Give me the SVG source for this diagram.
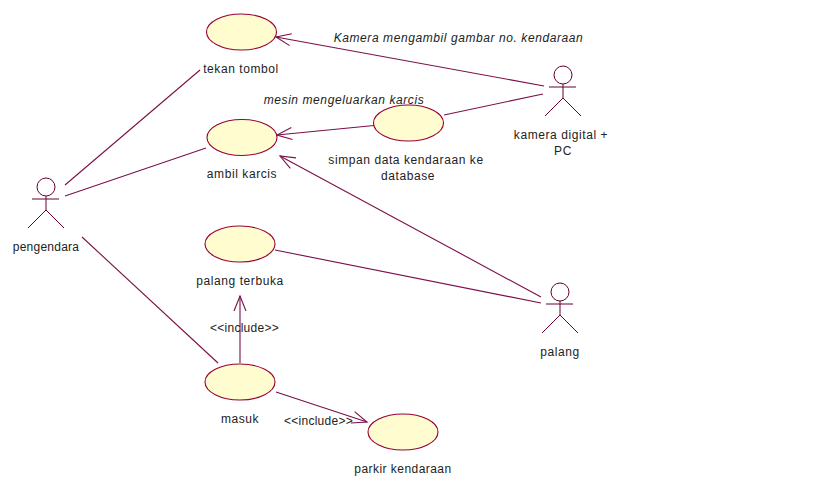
<svg xmlns="http://www.w3.org/2000/svg" width="819" height="489" viewBox="0 0 819 489">
<style>
.uc{fill:#fffdcf;stroke:#990033;stroke-width:1.1}
.ln{fill:none;stroke:#7a1048;stroke-width:1.1}
.ac{fill:none;stroke:#660033;stroke-width:1}
text{font-family:"Liberation Sans",Arial,sans-serif;font-size:12px;letter-spacing:0.58px;fill:#222;text-anchor:middle}
.i{font-style:italic}
.t{letter-spacing:0.25px}
</style>
<defs>
<marker id="open" markerUnits="userSpaceOnUse" markerWidth="18" markerHeight="14" refX="16" refY="7" orient="auto">
<path d="M1 1L16 7L1 13" fill="none" stroke="#7a1048" stroke-width="1.1"/>
</marker>
<g id="actor">
<circle cx="0" cy="-12" r="9"/>
<path d="M-14 0H13M0 -3V11M0 11L-18 29M0 11L18 29"/>
</g>
</defs>
<rect width="819" height="489" fill="#fff"/>
<g id="connectors">
<path class="ln" d="M65 185L200 70"/>
<path class="ln" d="M65 196L206 148"/>
<path class="ln" d="M82 237L218 363"/>
<path class="ln" marker-end="url(#open)" d="M544 86L276 37"/>
<path class="ln" d="M444 115L543 94"/>
<path class="ln" marker-end="url(#open)" d="M374 125.500L277 135"/>
<path class="ln" marker-end="url(#open)" d="M541 297L280 156"/>
<path class="ln" d="M275 250L541 303"/>
<path class="ln" marker-end="url(#open)" d="M240 363L240 296"/>
<path class="ln" marker-end="url(#open)" d="M276 392L367 422"/>
</g>
<g id="uc-tekan"><ellipse class="uc" cx="241.500" cy="32" rx="35" ry="18"/><text x="241" y="73">tekan tombol</text></g>
<g id="uc-ambil"><ellipse class="uc" cx="242" cy="137.500" rx="35" ry="18"/><text x="242" y="178">ambil karcis</text></g>
<g id="uc-simpan"><ellipse class="uc" cx="408.500" cy="123" rx="35" ry="18"/><text x="406" y="164">simpan data kendaraan ke</text><text x="408" y="180">database</text></g>
<g id="uc-palang"><ellipse class="uc" cx="240" cy="244" rx="35" ry="18"/><text x="240" y="285">palang terbuka</text></g>
<g id="uc-masuk"><ellipse class="uc" cx="240" cy="382" rx="35" ry="18"/><text x="240" y="423">masuk</text></g>
<g id="uc-parkir"><ellipse class="uc" cx="403" cy="432" rx="35" ry="18"/><text x="403" y="473" style="letter-spacing:.45px">parkir kendaraan</text></g>
<g id="actor-pengendara"><use href="#actor" x="46" y="199" class="ac"/><text class="t" x="46" y="251">pengendara</text></g>
<g id="actor-kamera"><use href="#actor" x="563" y="87" class="ac"/><text x="561" y="139">kamera digital +</text><text x="563" y="155">PC</text></g>
<g id="actor-palang"><use href="#actor" x="560" y="304" class="ac"/><text x="560" y="356">palang</text></g>
<g id="labels">
<text class="i" x="458.500" y="42">Kamera mengambil gambar no. kendaraan</text>
<text class="i" x="344" y="104">mesin mengeluarkan karcis</text>
<text class="t" x="244.500" y="332">&lt;&lt;include&gt;&gt;</text>
<text class="t" x="318.500" y="425">&lt;&lt;include&gt;&gt;</text>
</g>
</svg>
